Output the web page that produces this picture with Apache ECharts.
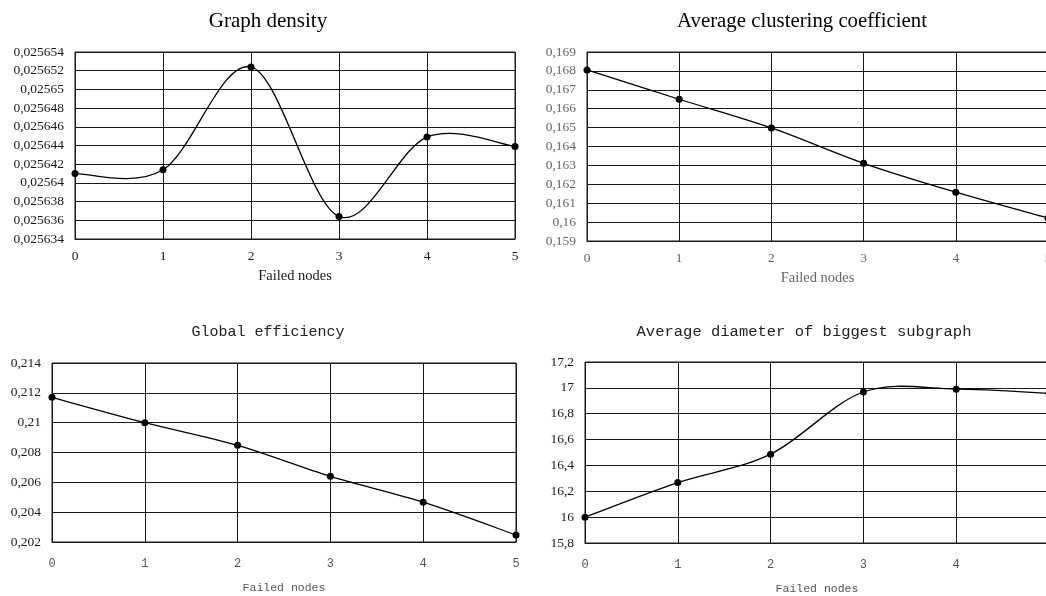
<!DOCTYPE html>
<html>
<head>
<meta charset="utf-8">
<script src="https://cdn.jsdelivr.net/npm/echarts@6/dist/echarts.min.js"></script>
<style>
html,body{margin:0;padding:0;background:#fff;}
#chart{width:1046px;height:596px;}
</style>
</head>
<body>
<div id="chart"></div>
<script>
// ---- data ----
const xCategories = ['0', '1', '2', '3', '4', '5'];

const densityValues    = [0.025641, 0.0256414, 0.0256524, 0.0256364, 0.0256449, 0.0256439];
const clusteringValues = [0.16805, 0.1665, 0.16498, 0.16311, 0.16158, 0.16021];
const efficiencyValues = [0.2117, 0.2100, 0.20848, 0.2064, 0.20467, 0.20247];
const diameterValues   = [16.0, 16.267, 16.487, 16.968, 16.99, 16.958];

const densityTickLabels    = ['0,025634','0,025636','0,025638','0,02564','0,025642','0,025644','0,025646','0,025648','0,02565','0,025652','0,025654'];
const clusteringTickLabels = ['0,159','0,16','0,161','0,162','0,163','0,164','0,165','0,166','0,167','0,168','0,169'];
const efficiencyTickLabels = ['0,202','0,204','0,206','0,208','0,21','0,212','0,214'];
const diameterTickLabels   = ['15,8','16','16,2','16,4','16,6','16,8','17','17,2'];

const titles = ['Graph density', 'Average clustering coefficient', 'Global efficiency', 'Average diameter of biggest subgraph'];
const xAxisName = 'Failed nodes';

// ---- helpers ----
const SERIF = '"Liberation Serif", "Times New Roman", serif';
const MONO = '"Liberation Mono", "Courier New", monospace';
function toNum(s) { return parseFloat(s.replace(',', '.')); }
function yAxisFrom(labels, gridIndex, color) {
  const ticks = labels.map(toNum);
  const interval = +(ticks[1] - ticks[0]).toPrecision(8);
  return {
    type: 'value', gridIndex: gridIndex,
    min: ticks[0], max: ticks[ticks.length - 1], interval: interval,
    axisLine: {show: false}, axisTick: {show: false},
    splitLine: {show: true, lineStyle: {color: '#1a1a1a', width: 1}},
    axisLabel: {
      margin: 11, color: color, fontFamily: SERIF, fontSize: 13.5,
      formatter: function (v) {
        let best = 0, d = Infinity;
        ticks.forEach(function (t, i) { const dd = Math.abs(t - v); if (dd < d) { d = dd; best = i; } });
        return labels[best];
      }
    }
  };
}
function xAxisFrom(gridIndex, opts) {
  return {
    type: 'category', gridIndex: gridIndex, data: xCategories, boundaryGap: false,
    axisLine: {show: true, lineStyle: {color: '#1a1a1a', width: 1}},
    axisTick: {show: false},
    splitLine: {show: true, lineStyle: {color: '#1a1a1a', width: 1}},
    axisLabel: {margin: opts.margin, color: opts.color, fontFamily: opts.font, fontSize: opts.fontSize},
    name: xAxisName, nameLocation: 'middle', nameGap: opts.nameGap,
    nameTextStyle: {color: opts.color, fontFamily: opts.font, fontSize: opts.nameSize}
  };
}
// Smoothed line (Catmull-Rom style, as in spreadsheet charts) drawn segment by segment
function smoothLineSeries(idx, values) {
  return {
    type: 'custom', xAxisIndex: idx, yAxisIndex: idx,
    data: values.map(function (v, i) { return [i, v]; }),
    clip: false, silent: true, z: 2,
    renderItem: function (params, api) {
      const i = params.dataIndexInside, n = params.dataInsideLength;
      if (i >= n - 1) return {type: 'group', children: []};
      function P(k) {
        k = Math.max(0, Math.min(n - 1, k));
        return api.coord([api.value(0, k), api.value(1, k)]);
      }
      const p0 = P(i - 1), p1 = P(i), p2 = P(i + 1), p3 = P(i + 2);
      return {
        type: 'bezierCurve',
        shape: {
          x1: p1[0], y1: p1[1], x2: p2[0], y2: p2[1],
          cpx1: p1[0] + (p2[0] - p0[0]) / 6, cpy1: p1[1] + (p2[1] - p0[1]) / 6,
          cpx2: p2[0] - (p3[0] - p1[0]) / 6, cpy2: p2[1] - (p3[1] - p1[1]) / 6
        },
        style: {stroke: '#000', lineWidth: 1.3, fill: null}
      };
    },
    animation: false
  };
}
function pointSeries(idx, values) {
  return {
    type: 'scatter', xAxisIndex: idx, yAxisIndex: idx, data: values,
    symbol: 'circle', symbolSize: 7, itemStyle: {color: '#000', opacity: 1}, z: 3, clip: false,
    animation: false
  };
}
const gridBase = {show: true, borderColor: '#1a1a1a', borderWidth: 1, backgroundColor: 'transparent', containLabel: false, outerBoundsMode: 'none'};

const option = {
  backgroundColor: '#fff',
  animation: false,
  grid: [
    Object.assign({left: 75, top: 52, width: 440, height: 187}, gridBase),
    Object.assign({left: 587, top: 52, width: 461, height: 189}, gridBase),
    Object.assign({left: 52, top: 363, width: 464, height: 179}, gridBase),
    Object.assign({left: 585, top: 362, width: 464, height: 181}, gridBase)
  ],
  xAxis: [
    xAxisFrom(0, {margin: 10, color: '#1a1a1a', font: SERIF, fontSize: 13.5, nameGap: 30, nameSize: 14.5}),
    xAxisFrom(1, {margin: 10, color: '#666', font: SERIF, fontSize: 13.5, nameGap: 30, nameSize: 14.5}),
    xAxisFrom(2, {margin: 16, color: '#555', font: MONO, fontSize: 12, nameGap: 40, nameSize: 11.5}),
    xAxisFrom(3, {margin: 16, color: '#555', font: MONO, fontSize: 12, nameGap: 40, nameSize: 11.5})
  ],
  yAxis: [
    yAxisFrom(densityTickLabels, 0, '#1a1a1a'),
    yAxisFrom(clusteringTickLabels, 1, '#666'),
    yAxisFrom(efficiencyTickLabels, 2, '#1a1a1a'),
    yAxisFrom(diameterTickLabels, 3, '#1a1a1a')
  ],
  series: [
    smoothLineSeries(0, densityValues), pointSeries(0, densityValues),
    smoothLineSeries(1, clusteringValues), pointSeries(1, clusteringValues),
    smoothLineSeries(2, efficiencyValues), pointSeries(2, efficiencyValues),
    smoothLineSeries(3, diameterValues), pointSeries(3, diameterValues)
  ],
  graphic: [
    {type: 'text', x: 268, y: 21, style: {text: titles[0], align: 'center', verticalAlign: 'middle', fill: '#000', fontFamily: SERIF, fontSize: 21}},
    {type: 'text', x: 802, y: 22, style: {text: titles[1], align: 'center', verticalAlign: 'middle', fill: '#000', fontFamily: SERIF, fontSize: 20.8}},
    {type: 'text', x: 268, y: 332, style: {text: titles[2], align: 'center', verticalAlign: 'middle', fill: '#222', fontFamily: MONO, fontSize: 15}},
    {type: 'text', x: 804, y: 332, style: {text: titles[3], align: 'center', verticalAlign: 'middle', fill: '#222', fontFamily: MONO, fontSize: 15.5}}
  ]
};

const chart = echarts.init(document.getElementById('chart'), null, {renderer: 'canvas'});
chart.setOption(option);
</script>
</body>
</html>
